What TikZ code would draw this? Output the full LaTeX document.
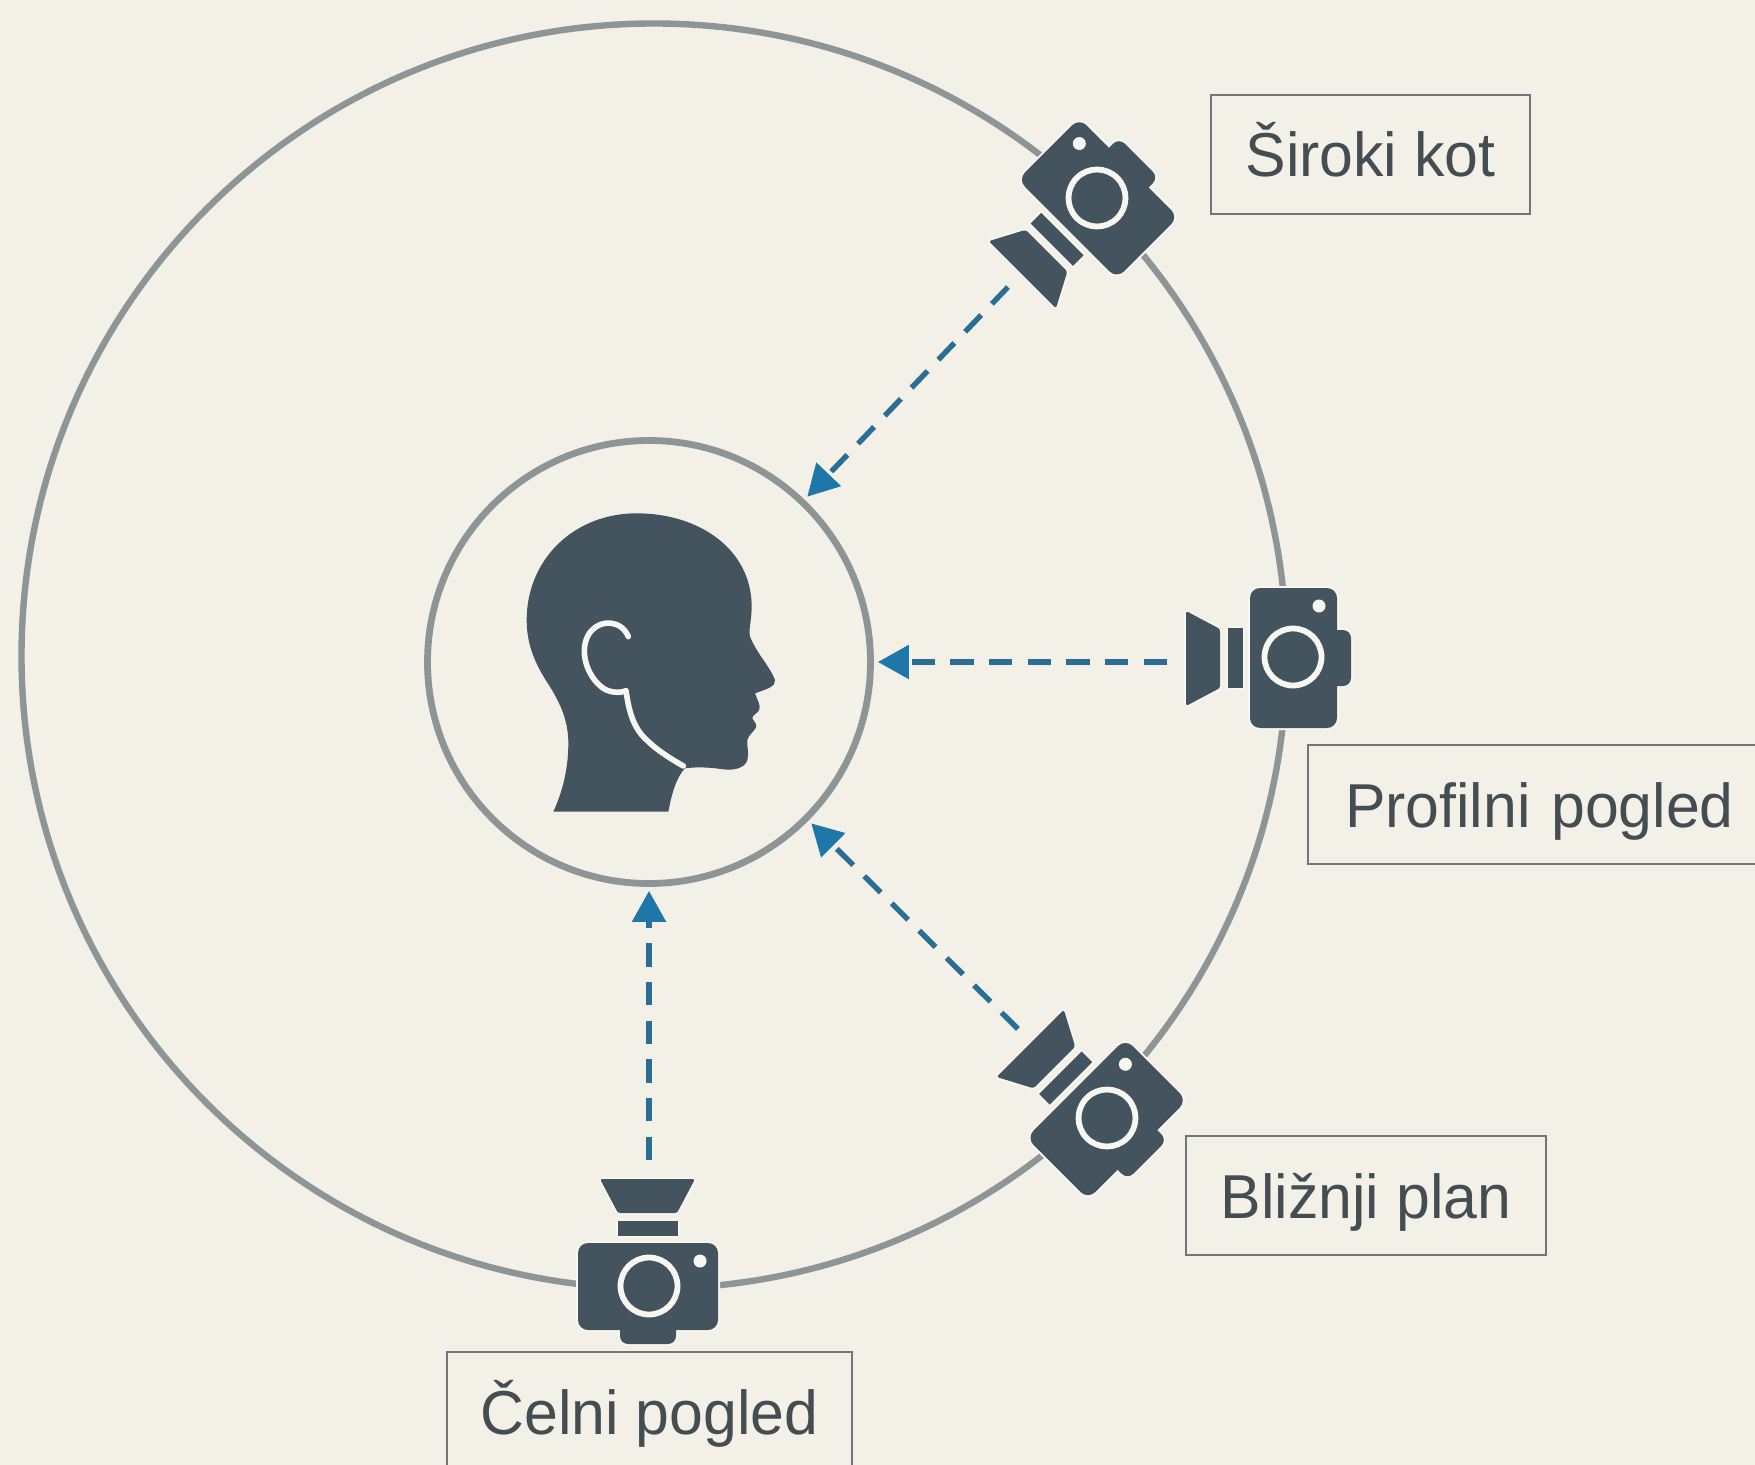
\documentclass[tikz,border=0pt]{standalone}
\usepackage{fontspec}
\setmainfont[FakeStretch=0.98]{Liberation Sans}
\usetikzlibrary{arrows.meta}
\definecolor{bgc}{HTML}{F3F0E7}
\definecolor{halo}{HTML}{F8F6F0}
\definecolor{darkc}{HTML}{44545F}
\definecolor{ringc}{HTML}{8E9596}
\definecolor{arrowc}{HTML}{2B6E94}
\definecolor{headc}{HTML}{1F76A8}
\definecolor{boxc}{HTML}{727675}
\definecolor{textc}{HTML}{434D52}
\tikzset{
  x=0.5pt,y=-0.5pt,
  orbit/.style={circle,draw=ringc,line width=3.2pt,inner sep=0pt,minimum size=632.5pt},
  subject/.style={circle,draw=ringc,line width=3.4pt,inner sep=0pt,minimum size=221.5pt},
  tag/.style={draw=boxc,line width=1.2pt,text=textc,font=\fontsize{31}{36}\selectfont,inner sep=0pt,anchor=center,
    minimum height=59.5pt,text height=41pt,text depth=18.5pt},
  view/.style={draw=arrowc,line width=2.7pt,dash pattern=on 11.6pt off 7.75pt,shorten >=2pt,
    -{Triangle[length=15.5pt,width=16.5pt,color=headc,fill=headc]}},
  camhalo/.style={draw=halo,line width=2pt,line join=round},
}
% #1 name, #2 lens position, #3 rotation, #4 dot position
\newcommand{\cameraicon}[4]{%
  \begin{scope}[shift={#2},rotate=#3]
    \path[camhalo,rounded corners=5pt] (-43,-69) rectangle (44,71);
    \path[camhalo,rounded corners=4pt] (30,-27) rectangle (58,29);
    \path[camhalo] (-65,-29) rectangle (-50,31);
    \path[camhalo,rounded corners=1.2pt] (-107,-46) -- (-73,-28) -- (-73,31) -- (-107,49) -- cycle;
    \fill[darkc,rounded corners=5pt] (-43,-69) rectangle (44,71);
    \fill[darkc,rounded corners=4pt] (30,-27) rectangle (58,29);
    \fill[darkc] (-65,-29) rectangle (-50,31);
    \fill[darkc,rounded corners=1.2pt] (-107,-46) -- (-73,-28) -- (-73,31) -- (-107,49) -- cycle;
    \path[draw=halo,line width=2.9pt] (0,0) circle (28.5);
    \path[fill=halo] #4 circle (6.5);
    \coordinate (#1) at (-126,0);
  \end{scope}}
\begin{document}
\begin{tikzpicture}
\useasboundingbox (0,0) rectangle (1755,1465);
\clip (0,0) rectangle (1755,1465);
\fill[bgc] (0,0) rectangle (1755,1465);
\node[orbit] (orbit) at (654,656) {};
\node[subject] (subject) at (649,662) {};
% head
\begin{scope}[shift={(500,490)},x=0.16667pt,y=-0.16667pt]
  \fill[darkc] (160,965) .. controls (190,900) and (205,830) .. (205,760)
   .. controls (205,690) and (180,640) .. (150,590)
   .. controls (110,530) and (80,470) .. (80,390)
   .. controls (80,210) and (220,70) .. (410,70)
   .. controls (600,70) and (755,180) .. (755,350)
   .. controls (755,390) and (745,420) .. (750,440)
   .. controls (770,490) and (810,530) .. (825,570)
   .. controls (828,590) and (800,597) .. (765,610)
   .. controls (772,630) and (782,645) .. (778,658)
   .. controls (775,670) and (755,675) .. (757,685)
   .. controls (760,695) and (772,700) .. (768,712)
   .. controls (762,725) and (745,735) .. (742,750)
   .. controls (740,770) and (748,790) .. (742,810)
   .. controls (735,835) and (700,842) .. (670,838)
   .. controls (630,832) and (590,830) .. (555,835)
   .. controls (530,860) and (515,910) .. (505,965) -- cycle;
  \draw[halo,line width=2.8pt,line cap=round,line join=round] (385,440) .. controls (365,390) and (300,385) .. (268,430)
   .. controls (235,480) and (260,560) .. (310,595)
   .. controls (330,608) and (360,610) .. (378,602)
   .. controls (385,650) and (395,710) .. (440,750)
   .. controls (470,780) and (510,805) .. (550,828);
\end{scope}
% cameras
\cameraicon{camwide}{(1097,198)}{45}{(26,-51)}
\cameraicon{camside}{(1293,657)}{0}{(26,-51)}
\cameraicon{camclose}{(1107,1118)}{-45}{(-25,-51)}
\cameraicon{camfront}{(649,1286)}{-90}{(-25,-51)}
\coordinate (camsidefree) at (camside |- subject);
% connectors
\draw[view] (camwide) -- (subject);
\draw[view] (camsidefree) -- (subject);
\draw[view] (camclose) -- (subject);
\draw[view] (camfront) -- (subject);
% labels
\node[tag,minimum width=159.5pt] (lwide) at (1370.5,154.5) {Široki kot};
\node[tag,minimum width=240pt,text width=240pt] (lside) at (1548,804.5) {\hspace{18.5pt}Profilni pogled};
\node[tag,minimum width=180pt] (lclose) at (1366,1195.5) {Bližnji plan};
\node[tag,minimum width=202.5pt] (lfront) at (649.5,1411.5) {Čelni pogled};
\end{tikzpicture}
\end{document}
